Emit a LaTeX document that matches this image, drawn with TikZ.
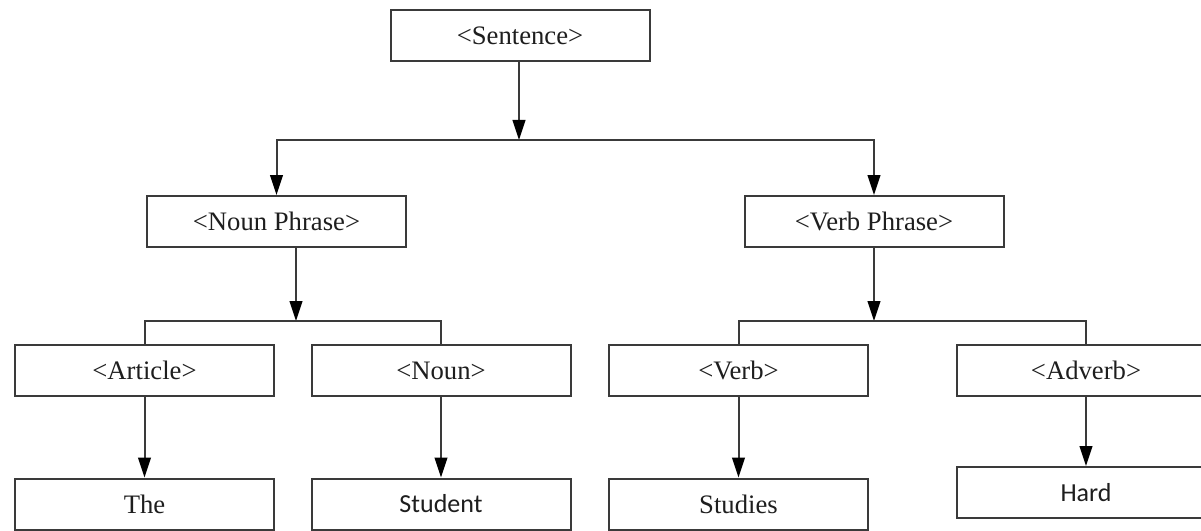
\documentclass[tikz,border=0pt]{standalone}
\usepackage{fontspec}
\setmainfont{Liberation Serif}
\newfontfamily\calfont{Carlito}
\usetikzlibrary{arrows.meta}
\definecolor{linegray}{HTML}{3A3A3A}
\definecolor{textgray}{HTML}{1E1E1E}
\tikzset{
  box/.style={draw=linegray, line width=1.5pt, minimum width=259*0.75pt,
    minimum height=51*0.75pt, inner sep=0pt, text=textgray,
    font=\fontsize{20}{23}\selectfont},
  sansbox/.style={box, font=\calfont\fontsize{19.5}{23}\selectfont},
  link/.style={draw=linegray, line width=1.5pt},
  arr/.style={link, -{Triangle[length=15pt,width=9.5pt,color=black]}}
}
\begin{document}
\begin{tikzpicture}[x=0.75pt,y=-0.75pt]
\useasboundingbox (0,0) rectangle (1201,531);
\clip (0,0) rectangle (1201,531);
\fill[white] (0,0) rectangle (1201,531);

% level 1
\node[box] (S) at (520,35.5) {<Sentence>};
% level 2
\node[box] (NP) at (276.5,221.5) {<Noun Phrase>};
\node[box] (VP) at (874,221.5) {<Verb Phrase>};
% level 3
\node[box] (Art) at (144.5,370.5) {<Article>};
\node[box] (N) at (441,370.5) {<Noun>};
\node[box] (V) at (738.5,370.5) {<Verb>};
\node[box] (Adv) at (1086,370.5) {<Adverb>};
% level 4
\node[box] (The) at (144.5,504) {The};
\node[sansbox] (Stu) at (441,504) {Student};
\node[box] (Sts) at (738.5,504) {Studies};
\node[sansbox] (Hard) at (1086,492.5) {Hard};

% branch points
\coordinate (j1) at (519,140);
\coordinate (j2) at (296,321);
\coordinate (j3) at (874,321);

% sentence split
\draw[arr] (S.south -| j1) -- (j1);
\draw[arr] (j1) -| (NP);
\draw[arr] (j1) -| (VP);

% noun phrase split
\draw[arr] (NP.south -| j2) -- (j2);
\draw[link] (Art) |- (j2) -| (N);

% verb phrase split
\draw[arr] (VP) -- (j3);
\draw[link] (V) |- (j3) -| (Adv);

% words
\draw[arr] (Art) -- (The);
\draw[arr] (N) -- (Stu);
\draw[arr] (V) -- (Sts);
\draw[arr] (Adv) -- (Hard);
\end{tikzpicture}
\end{document}
